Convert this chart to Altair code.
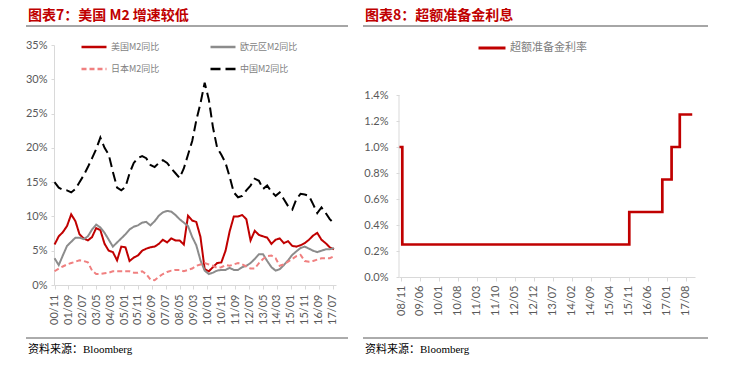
import altair as alt
import pandas as pd

# ---------------- Left panel data (quarterly readings, % y/y) ----------------
quarter_dates = pd.date_range("2000-11-01", "2017-08-01", freq="3MS").strftime("%Y-%m-%d").tolist()

us_m2 = [5.9, 7.1, 7.7, 8.6, 10.3, 9.3, 7.4, 6.8, 6.5, 7.0,
         8.3, 8.0, 6.0, 5.0, 4.8, 3.6, 5.6, 5.5, 3.5, 4.0,
         4.3, 5.0, 5.3, 5.5, 5.6, 6.0, 6.6, 6.2, 6.8, 6.5,
         6.5, 5.9, 10.1, 9.4, 9.2, 7.0, 2.3, 2.0, 2.6, 3.2,
         3.3, 5.0, 7.8, 10.0, 10.0, 10.2, 9.6, 6.5, 7.9, 7.3,
         7.1, 6.9, 6.0, 6.6, 6.8, 6.1, 6.4, 5.7, 5.6, 5.8,
         6.1, 6.6, 7.2, 7.6, 6.6, 6.1, 5.5, 5.2]
euro_m2 = [3.9, 2.9, 4.3, 5.7, 6.3, 6.9, 6.9, 6.7, 7.1, 8.1,
           8.8, 8.4, 7.6, 6.6, 5.6, 6.2, 6.8, 7.4, 8.1, 8.5,
           8.7, 9.1, 9.2, 8.7, 9.3, 10.1, 10.6, 10.8, 10.7, 10.2,
           9.6, 9.1, 8.6, 7.0, 5.8, 3.6, 2.1, 1.6, 1.8, 2.1,
           2.2, 2.2, 2.5, 2.2, 2.2, 2.6, 2.8, 3.2, 3.8, 4.5,
           4.5, 3.5, 2.6, 2.1, 2.3, 2.9, 3.6, 4.4, 4.9, 5.4,
           5.6, 5.3, 5.0, 4.8, 5.0, 5.2, 5.2, 5.4]
japan_m2 = [2.0, 2.4, 2.7, 3.0, 3.2, 3.4, 3.6, 3.5, 3.3, 2.1,
            1.6, 1.6, 1.7, 1.8, 2.0, 2.0, 2.0, 2.0, 2.0, 1.8,
            1.8, 2.0, 1.6, 0.8, 0.7, 1.2, 1.6, 1.9, 2.1, 2.2,
            2.2, 2.0, 2.2, 2.4, 2.8, 3.0, 3.2, 3.0, 2.8, 2.5,
            2.6, 2.9, 2.8, 3.0, 3.2, 3.0, 2.7, 2.4, 2.4, 3.2,
            3.8, 4.2, 4.3, 3.9, 2.8, 3.0, 3.4, 3.8, 4.2, 4.4,
            3.5, 3.4, 3.5, 3.7, 3.9, 3.9, 3.9, 4.2]
china_m2 = [15.0, 14.2, 13.9, 13.8, 13.5, 14.0, 15.0, 16.0, 17.2, 18.5,
            19.8, 21.5, 20.0, 19.0, 16.5, 14.2, 13.8, 14.3, 16.3, 17.8,
            18.5, 18.8, 18.5, 17.5, 17.2, 17.8, 18.2, 17.8, 17.0, 16.3,
            15.6, 17.0, 19.0, 21.0, 24.0, 26.5, 29.5, 27.0, 23.0, 20.0,
            19.0, 17.8, 15.8, 13.5, 12.8, 13.0, 13.8, 14.5, 15.5, 15.2,
            14.0, 14.5, 13.6, 13.0, 13.5, 12.5, 11.5, 11.0, 12.5, 13.3,
            13.2, 13.0, 11.8, 10.5, 11.3, 10.5, 9.6, 9.0]

series_names = ["美国M2同比", "欧元区M2同比", "日本M2同比", "中国M2同比"]
series_colors = ["#c00000", "#8c8c8c", "#f08080", "#000000"]
series_dashes = [[1, 0], [1, 0], [5, 3], [10, 5]]

left_ticks = ["00/11", "01/09", "02/07", "03/05", "04/03", "05/01", "05/11", "06/09",
              "07/07", "08/05", "09/03", "10/01", "10/11", "11/09", "12/07", "13/05",
              "14/03", "15/01", "15/11", "16/09", "17/07"]
left_yticks = [0, 5, 10, 15, 20, 25, 30, 35]

# ---------------- Right panel data ----------------
ioer_dates = ["2008-10-09", "2008-11-15", "2015-11-08", "2016-11-13", "2017-02-25", "2017-05-28", "2017-10-15"]
ioer_rates = [1.0, 0.25, 0.5, 0.75, 1.0, 1.25, 1.25]
ioer_name = "超额准备金利率"
right_ticks = ["08/11", "09/06", "10/01", "10/08", "11/03", "11/10", "12/05", "12/12",
               "13/07", "14/02", "14/09", "15/04", "15/11", "16/06", "17/01", "17/08"]
right_yticks = [0.0, 0.2, 0.4, 0.6, 0.8, 1.0, 1.2, 1.4]
right_axis_span = [0.0, 1.4]

title_left = "图表7：美国 M2 增速较低"
title_right = "图表8：超额准备金利息"
source_text = "资料来源：Bloomberg"

# ---------------- build tables ----------------
frames = []
for name, vals in zip(series_names, [us_m2, euro_m2, japan_m2, china_m2]):
    frames.append(pd.DataFrame({"date": quarter_dates, "value": vals, "series": name}))
left_df = pd.concat(frames, ignore_index=True)
right_df = pd.DataFrame({"date": ioer_dates, "value": ioer_rates, "series": ioer_name})


def tick_dt(lbl):
    yy, mm = lbl.split("/")
    return alt.DateTime(year=2000 + int(yy), month=int(mm), date=1)


LABEL_FONT = "Lato"
AX_COLOR = "#d9d9d9"
LBL_COLOR = "#595959"
TITLE_COLOR = "#c00000"
CJK = "Noto Sans CJK SC"
SERIF = "'Liberation Serif', 'Noto Sans CJK SC'"

LW, LH = 282, 240
RW, RH = 296, 232
R_TOP = 1.4 * RH / 182.0   # headroom above 1.4% so the plot starts level with the left one

leg_left = alt.Legend(orient="none", legendX=26, legendY=-12, columns=2, direction="horizontal",
                      title=None, columnPadding=45, rowPadding=3, labelFont=CJK, labelFontSize=9,
                      labelColor="#7f7f7f", symbolType="stroke", symbolSize=625,
                      symbolStrokeWidth=2.5, labelOffset=3)

left_lines = alt.Chart(left_df).mark_line(strokeWidth=2).encode(
    x=alt.X("date:T",
            scale=alt.Scale(domain=[alt.DateTime(year=2000, month=10, date=20),
                                    alt.DateTime(year=2017, month=9, date=15)]),
            axis=alt.Axis(values=[tick_dt(t) for t in left_ticks], format="%y/%m",
                          labelAngle=270, labelFlush=False, labelOverlap=False, grid=False,
                          domainColor=AX_COLOR, tickColor=AX_COLOR, tickSize=4,
                          labelPadding=5, labelColor=LBL_COLOR, labelFont=LABEL_FONT,
                          labelFontSize=11, title=None)),
    y=alt.Y("value:Q", scale=alt.Scale(domain=[0, 35], nice=False),
            axis=alt.Axis(values=left_yticks, labelExpr="datum.value + '%'", grid=False,
                          labelOverlap=False, domainColor=AX_COLOR, tickColor=AX_COLOR, tickSize=3,
                          labelPadding=4, labelColor=LBL_COLOR, labelFont=LABEL_FONT,
                          labelFontSize=11, title=None)),
    color=alt.Color("series:N", scale=alt.Scale(domain=series_names, range=series_colors),
                    legend=leg_left),
    strokeDash=alt.StrokeDash("series:N", scale=alt.Scale(domain=series_names, range=series_dashes),
                              legend=leg_left),
)


def deco(title, tx, ty, rx1, rx2, ry_top, ry_bot, sy):
    one = alt.Data(values=[{"k": 1}])
    t = alt.Chart(alt.Data(values=[{"t": title}])).mark_text(
        align="left", baseline="middle", font=CJK, fontSize=14, fontWeight="bold",
        color=TITLE_COLOR).encode(x=alt.value(tx), y=alt.value(ty), text="t:N")
    r1 = alt.Chart(one).mark_rule(color="#a6a6a6", strokeWidth=2).encode(
        x=alt.value(rx1), x2=alt.value(rx2), y=alt.value(ry_top))
    r2 = alt.Chart(one).mark_rule(color="#595959", strokeWidth=1).encode(
        x=alt.value(rx1), x2=alt.value(rx2), y=alt.value(ry_bot))
    s = alt.Chart(alt.Data(values=[{"t": source_text}])).mark_text(
        align="left", baseline="middle", font=SERIF, fontSize=11, color="#000000").encode(
        x=alt.value(tx), y=alt.value(sy), text="t:N")
    return [t, r1, r2, s]


left = alt.layer(left_lines, *deco(title_left, -26, -29, -28, 294, -19, 293, 305)).properties(
    width=LW, height=LH)

leg_right = alt.Legend(orient="none", legendX=78, legendY=-12, title=None,
                       labelFont=CJK, labelFontSize=11, labelColor="#7f7f7f",
                       symbolType="stroke", symbolSize=729, symbolStrokeWidth=3, labelOffset=3)

right_y_scale = alt.Scale(domain=[0, R_TOP], nice=False)
right_y_axis = alt.Axis(values=right_yticks, labelExpr="format(datum.value, '.1f') + '%'",
                        grid=False, domain=False, labelOverlap=False, labelFlush=False,
                        tickColor=AX_COLOR, tickSize=3,
                        labelPadding=8, labelColor=LBL_COLOR, labelFont=LABEL_FONT,
                        labelFontSize=11, title=None)

right_line = alt.Chart(right_df).mark_line(strokeWidth=2.7, interpolate="step-after").encode(
    x=alt.X("date:T",
            scale=alt.Scale(domain=[alt.DateTime(year=2008, month=10, date=9),
                                    alt.DateTime(year=2017, month=11, date=15)]),
            axis=alt.Axis(values=[tick_dt(t) for t in right_ticks], format="%y/%m",
                          labelAngle=270, labelFlush=False, labelOverlap=False, grid=False,
                          domainColor=AX_COLOR, tickColor=AX_COLOR, tickSize=4,
                          labelPadding=4, labelColor=LBL_COLOR, labelFont=LABEL_FONT,
                          labelFontSize=11, title=None)),
    y=alt.Y("value:Q", scale=right_y_scale, axis=right_y_axis),
    color=alt.Color("series:N", scale=alt.Scale(domain=[ioer_name], range=["#c00000"]),
                    legend=leg_right),
)

# y-axis line of the right panel, spanning 0%..1.4% only
right_axis_line = alt.Chart(alt.Data(values=[{"value": right_axis_span[0], "b": right_axis_span[1]}])).mark_rule(
    color=AX_COLOR, strokeWidth=1).encode(
    x=alt.value(0), y=alt.Y("value:Q", scale=right_y_scale, axis=right_y_axis), y2="b:Q")

right = alt.layer(right_line, right_axis_line,
                  *deco(title_right, -34, -29, -36, 309, -19, 293, 305)).properties(
    width=RW, height=RH)

chart = alt.hconcat(left, right, spacing=13).resolve_scale(
    color="independent", strokeDash="independent"
).resolve_legend(
    color="independent", strokeDash="independent"
).properties(
    padding={"left": 17, "top": 1, "right": 5, "bottom": 5}
).configure_view(stroke=None)

chart.save("out.html", embed_options={"renderer": "svg", "actions": False})
